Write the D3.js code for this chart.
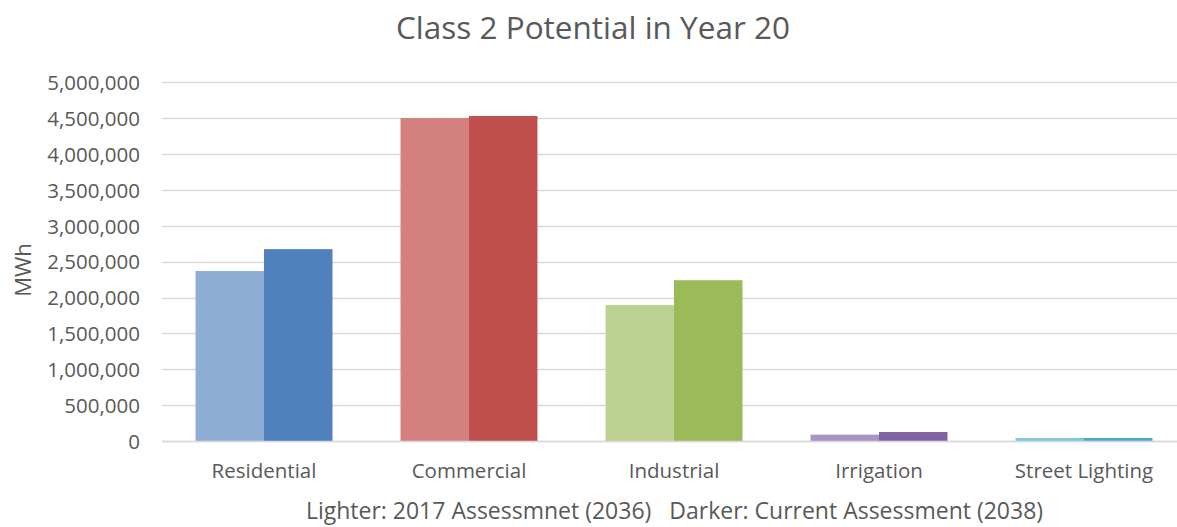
<!DOCTYPE html>
<html><head><meta charset="utf-8">
<script src="https://cdn.jsdelivr.net/npm/d3@7"></script>
<style>
body{margin:0;background:#fff;}
text{font-family:"Open Sans",sans-serif;fill:#595959;}
</style></head>
<body><svg id="c" width="1177" height="527"></svg>
<script>
const categories = ["Residential","Commercial","Industrial","Irrigation","Street Lighting"];
const lighter2017 = [2370000, 4503000, 1895000, 88000, 42000];
const darkerCurrent = [2675000, 4531000, 2242000, 125000, 42000];
const yTicks = [0,500000,1000000,1500000,2000000,2500000,3000000,3500000,4000000,4500000,5000000];
const lightColors = ["#8EAED6","#D4807F","#BDD292","#A893C2","#7FC8D8"];
const darkColors = ["#4F81BD","#C0504D","#9BBB59","#8064A2","#4BACC6"];
const title = "Class 2 Potential in Year 20";
const yTitle = "MWh";
const footer = "Lighter: 2017 Assessmnet (2036)   Darker: Current Assessment (2038)";

const svg = d3.select("#c");
const x = d3.scaleBand().domain(categories).range([161.5,1186.5]).paddingInner(0.332).paddingOuter(0.166);
const sub = d3.scaleBand().domain(["l","d"]).range([0,x.bandwidth()]);
const y = d3.scaleLinear().domain([0,5000000]).range([441,82.4]);
const fmt = d3.format(",");

// gridlines
const grid = svg.append("g");
grid.selectAll("line").data(yTicks).join("line")
  .attr("x1",162).attr("x2",1177)
  .attr("y1",d=>Math.round(y(d))+0.5).attr("y2",d=>Math.round(y(d))+0.5)
  .attr("stroke","#D9D9D9").attr("stroke-width",1.5);

// y axis labels
const yAxis = d3.axisLeft(y).tickValues(yTicks).tickFormat(fmt).tickSize(0).tickPadding(0);
const ya = svg.append("g").attr("transform","translate(140,0)").call(yAxis);
ya.select(".domain").remove();
ya.selectAll("text").style("font-size","20.5px").attr("fill","#595959").attr("dy","0.35em");

// bars
const data = categories.map((c,i)=>({c,i,l:lighter2017[i],d:darkerCurrent[i]}));
const gB = svg.append("g");
gB.selectAll("rect.l").data(data).join("rect").attr("class","l")
  .attr("x",d=>x(d.c)+sub("l")).attr("width",sub.bandwidth())
  .attr("y",d=>y(d.l)).attr("height",d=>y(0)-y(d.l)).attr("fill",d=>lightColors[d.i]);
gB.selectAll("rect.d").data(data).join("rect").attr("class","d")
  .attr("x",d=>x(d.c)+sub("d")).attr("width",sub.bandwidth())
  .attr("y",d=>y(d.d)).attr("height",d=>y(0)-y(d.d)).attr("fill",d=>darkColors[d.i]);

// baseline
svg.append("line").attr("x1",162).attr("x2",1177).attr("y1",441.5).attr("y2",441.5)
  .attr("stroke","#D9D9D9").attr("stroke-width",1.5);

// x axis labels
const xAxis = d3.axisBottom(x).tickSize(0).tickPadding(0);
const xa = svg.append("g").attr("transform","translate(0,478)").call(xAxis);
xa.select(".domain").remove();
xa.selectAll("text").style("font-size","20.5px").attr("fill","#595959").attr("dy",0);

// titles
svg.append("text").attr("x",593).attr("y",39).attr("text-anchor","middle")
  .style("font-size","31.5px").text(title);
svg.append("text").attr("transform","translate(31,270) rotate(-90)").attr("text-anchor","middle")
  .style("font-size","22px").text(yTitle);
svg.append("text").attr("x",674.5).attr("y",519).attr("text-anchor","middle")
  .style("font-size","23px").attr("xml:space","preserve").style("white-space","pre").text(footer);
</script></body></html>
